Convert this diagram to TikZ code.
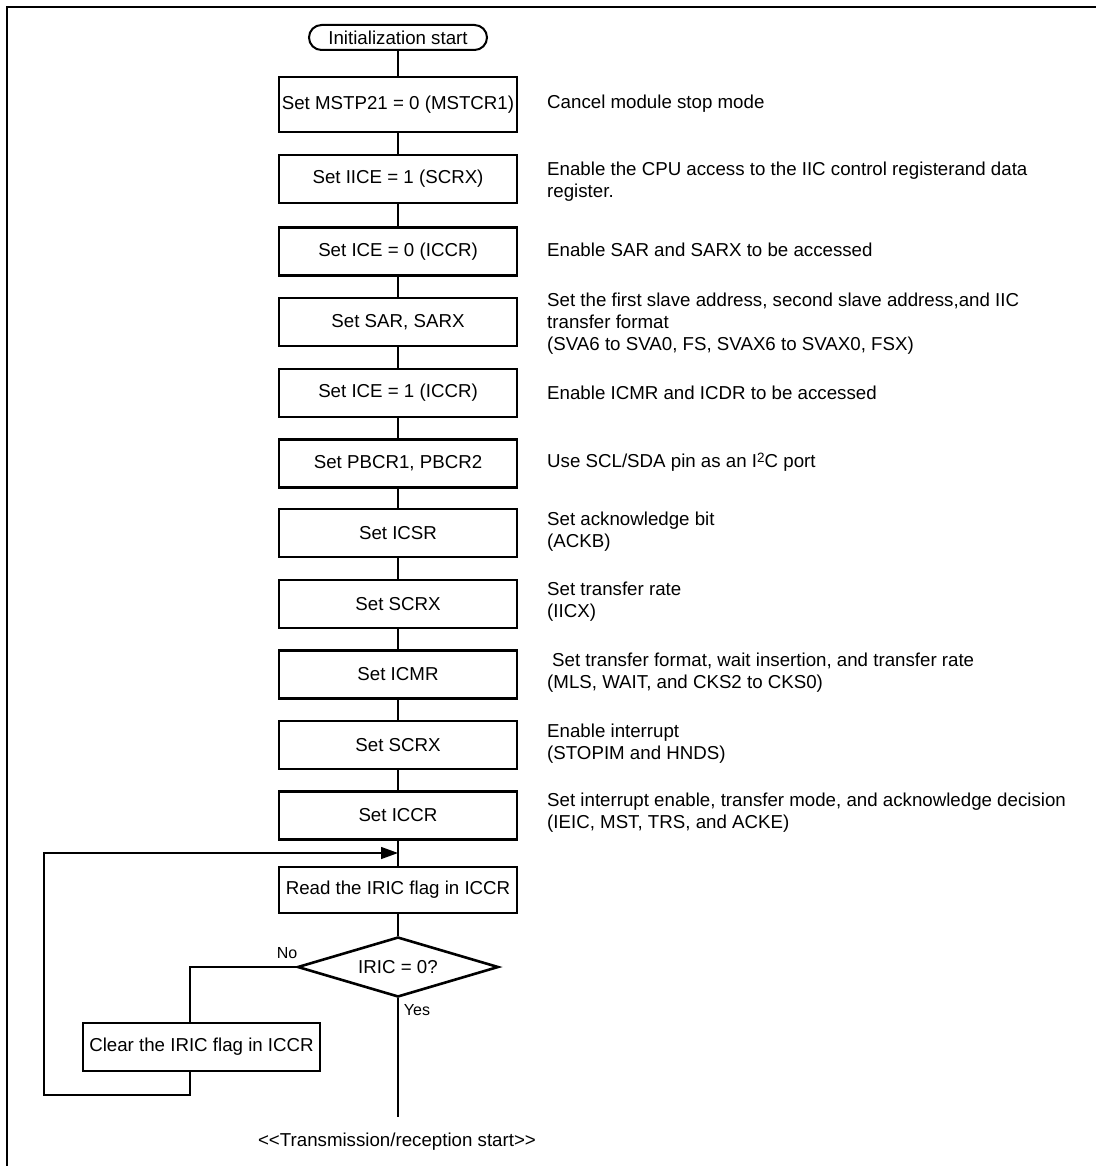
\documentclass[tikz,border=0pt]{standalone}
\usepackage{fontspec}
\setmainfont{Liberation Sans}
\usetikzlibrary{shapes.geometric,arrows.meta}
\begin{document}
\begin{tikzpicture}[x=1pt,y=-1pt,
  every node/.style={font=\fontsize{18.7}{22}\selectfont},
  stepbox/.style={draw,line width=2.6pt,minimum width=238pt,minimum height=48pt,inner sep=0pt},
  termbox/.style={draw,line width=2pt,rounded corners=12.5pt,minimum width=178pt,minimum height=25pt,inner sep=0pt},
  decbox/.style={draw,diamond,line width=2.6pt,aspect=3.35,minimum width=201pt,minimum height=60pt,inner sep=0pt},
  desc/.style={anchor=west,align=left,inner sep=0pt},
  conn/.style={line width=2pt},
  thinconn/.style={line width=1.3pt},
  lbl/.style={font=\fontsize{16}{18}\selectfont,inner sep=0pt},
  frame/.style={line width=2.6pt}
]
\useasboundingbox (0,0) rectangle (1095,1166);
\draw[frame] (1100,7) -- (7,7) -- (7,1170);

\node[termbox] (t) at (398,37.5) {Initialization start};
\node[stepbox,minimum height=55pt] (b1) at (398,104.5) {Set MSTP21 = 0 (MSTCR1)};
\node[stepbox] (b2) at (398,179) {Set IICE = 1 (SCRX)};
\node[stepbox] (b3) at (398,251.5) {Set ICE = 0 (ICCR)};
\node[stepbox] (b4) at (398,322) {Set SAR, SARX};
\node[stepbox] (b5) at (398,393) {Set ICE = 1 (ICCR)};
\node[stepbox] (b6) at (398,463.5) {Set PBCR1, PBCR2};
\node[stepbox] (b7) at (398,533) {Set ICSR};
\node[stepbox] (b8) at (398,604) {Set SCRX};
\node[stepbox] (b9) at (398,674.5) {Set ICMR};
\node[stepbox] (b10) at (398,745) {Set SCRX};
\node[stepbox] (b11) at (398,815.5) {Set ICCR};
\node[stepbox,minimum height=46pt] (rd) at (398,890) {Read the IRIC flag in ICCR};
\node[decbox] (dec) at (398,967) {IRIC = 0?};
\node[stepbox,minimum width=237pt] (clr) at (201.5,1047) {Clear the IRIC flag in ICCR};
\node[inner sep=0pt] (end) at (397,1142) {{<}{<}Transmission/reception start{>}{>}};

\node[desc] (d1) at (547,104) {Cancel module stop mode};
\node[desc] (d2) at (547,182) {Enable the CPU access to the IIC control registerand data\\register.};
\node[desc] (d3) at (547,250) {Enable SAR and SARX to be accessed};
\node[desc] (d4) at (547,324) {Set the first slave address, second slave address,and IIC\\transfer format\\(SVA6 to SVA0, FS, SVAX6 to SVAX0, FSX)};
\node[desc] (d5) at (547,393) {Enable ICMR and ICDR to be accessed};
\node[desc] (d6) at (547,462) {Use SCL/SDA pin as an I\raisebox{0.5ex}{\fontsize{13.5}{13.5}\selectfont 2}C port};
\node[desc] (d7) at (547,532) {Set acknowledge bit\\(ACKB)};
\node[desc] (d8) at (547,602) {Set transfer rate\\(IICX)};
\node[desc] (d9) at (547,673) {\hspace*{5pt}Set transfer format, wait insertion, and transfer rate\\(MLS, WAIT, and CKS2 to CKS0)};
\node[desc] (d10) at (547,744) {Enable interrupt\\(STOPIM and HNDS)};
\node[desc] (d11) at (547,813) {Set interrupt enable, transfer mode, and acknowledge decision\\(IEIC, MST, TRS, and ACKE)};

\node[lbl] (no) at (287,953) {No};
\node[lbl] (yes) at (417,1010) {Yes};

\coordinate (jn) at (398,853);
\coordinate (nox) at (190,0);
\coordinate (lb) at (44,1095);
\coordinate (yend) at (398,1117);

\draw[conn] (t) -- (b1);
\foreach \a/\b in {b1/b2,b2/b3,b3/b4,b4/b5,b5/b6,b6/b7,b7/b8,b8/b9,b9/b10,b10/b11}
  \draw[conn] (\a) -- (\b);
\draw[thinconn] (b11) -- (rd);
\draw[thinconn] (rd) -- (dec);
\draw[thinconn] (dec.south) -- (yend);
\draw[thinconn] (dec.west) -| (clr.north -| nox);
\draw[thinconn,-{Triangle[length=17pt,width=12pt]}] (clr.south -| nox) |- (lb) |- (jn);
\end{tikzpicture}
\end{document}
